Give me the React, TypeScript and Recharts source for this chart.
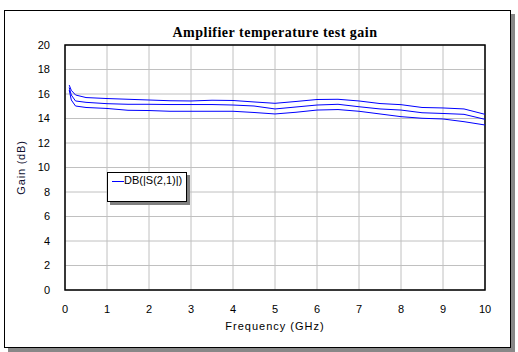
import React from 'react';
import { LineChart, Line, XAxis, YAxis, CartesianGrid, Legend, ReferenceArea } from 'recharts';

// frequency points (GHz)
const freqs = [0.1, 0.15, 0.25, 0.5, 1, 1.5, 2, 2.5, 3, 3.5, 4, 4.5, 5, 5.5, 6, 6.5, 7, 7.5, 8, 8.5, 9, 9.5, 10];

// gain (dB) for the three temperature runs
const gainHigh = [16.73, 16.3, 15.92, 15.71, 15.63, 15.57, 15.51, 15.45, 15.43, 15.49, 15.47, 15.35, 15.24, 15.39, 15.55, 15.57, 15.43, 15.22, 15.13, 14.9, 14.86, 14.78, 14.34];
const gainMid = [16.53, 15.92, 15.43, 15.32, 15.21, 15.16, 15.16, 15.14, 15.14, 15.14, 15.1, 15.02, 14.78, 14.94, 15.1, 15.16, 14.96, 14.78, 14.69, 14.47, 14.41, 14.34, 13.93];
const gainLow = [16.33, 15.51, 15.02, 14.9, 14.82, 14.67, 14.65, 14.59, 14.59, 14.59, 14.59, 14.49, 14.37, 14.51, 14.69, 14.73, 14.59, 14.37, 14.15, 14.02, 13.96, 13.74, 13.47];

const xTicks = [0, 1, 2, 3, 4, 5, 6, 7, 8, 9, 10];
const yTicks = [0, 2, 4, 6, 8, 10, 12, 14, 16, 18, 20];

const data = freqs.map((f, i) => ({ f, high: gainHigh[i], mid: gainMid[i], low: gainLow[i] }));

const font = '"Liberation Sans", Arial, sans-serif';

const renderLegend = () => (
  <div
    style={{
      width: 80,
      height: 30,
      background: '#fff',
      border: '1px solid #000',
      boxShadow: '3px 3px 0 #808080',
      fontFamily: font,
      fontSize: 11,
      color: '#000',
      boxSizing: 'border-box',
      position: 'relative',
    }}
  >
    <span style={{ position: 'absolute', left: 4, top: 8, width: 12, borderTop: '1px solid #0000ff' }} />
    <span style={{ position: 'absolute', left: 16, top: 1, whiteSpace: 'nowrap' }}>DB(|S(2,1)|)</span>
  </div>
);

export default function App() {
  return (
    <div style={{ position: 'absolute', left: 0, top: 0, width: 518, height: 352, background: '#fff' }}>
      <div
        style={{
          position: 'absolute',
          left: 4,
          top: 10,
          width: 505,
          height: 336,
          border: '1px solid #000',
          boxShadow: '4px 4px 0 #888',
          background: '#fff',
        }}
      />
      <div
        style={{
          position: 'absolute',
          left: 0,
          top: 25,
          width: 550,
          textAlign: 'center',
          fontFamily: '"Liberation Serif", "Times New Roman", serif',
          fontWeight: 'bold',
          fontSize: 14,
          letterSpacing: 0.5,
          color: '#000',
        }}
      >
        Amplifier temperature test gain
      </div>
      <div style={{ position: 'absolute', left: 0, top: 0 }}>
        <LineChart width={518} height={352} data={data} margin={{ top: 45, right: 33, bottom: 32, left: 0 }}>
          <CartesianGrid stroke="#c0c0c0" strokeWidth={1} />
          <XAxis
            dataKey="f"
            type="number"
            domain={[0, 10]}
            ticks={xTicks}
            height={30}
            tickLine={false}
            axisLine={false}
            tickSize={0}
            tickMargin={15}
            tick={{ fill: '#000', fontSize: 11, fontFamily: font }}
            label={{
              value: 'Frequency (GHz)',
              position: 'insideBottom',
              offset: -10,
              style: { fill: '#000', fontSize: 11, fontFamily: font, letterSpacing: 1, textAnchor: 'middle' },
            }}
          />
          <YAxis
            type="number"
            domain={[0, 20]}
            ticks={yTicks}
            width={65}
            tickLine={false}
            axisLine={false}
            tickSize={0}
            tickMargin={15}
            tick={{ fill: '#000', fontSize: 11, fontFamily: font }}
            label={{
              value: 'Gain (dB)',
              angle: -90,
              position: 'insideLeft',
              offset: 21,
              style: { fill: '#101030', fontSize: 11, fontFamily: font, letterSpacing: 0.8, textAnchor: 'middle' },
            }}
          />
          <ReferenceArea x1={0} x2={10} y1={0} y2={20} fill="none" stroke="#000" strokeWidth={1.5} />
          <Legend
            content={renderLegend}
            layout="horizontal"
            verticalAlign="middle"
            align="center"
            wrapperStyle={{ position: 'absolute', left: 107, top: 172, width: 'auto', height: 'auto' }}
          />
          <Line dataKey="high" stroke="#0000ff" strokeWidth={1} dot={false} isAnimationActive={false} legendType="line" />
          <Line dataKey="mid" stroke="#0000ff" strokeWidth={1} dot={false} isAnimationActive={false} legendType="none" />
          <Line dataKey="low" stroke="#0000ff" strokeWidth={1} dot={false} isAnimationActive={false} legendType="none" />
        </LineChart>
      </div>
    </div>
  );
}
